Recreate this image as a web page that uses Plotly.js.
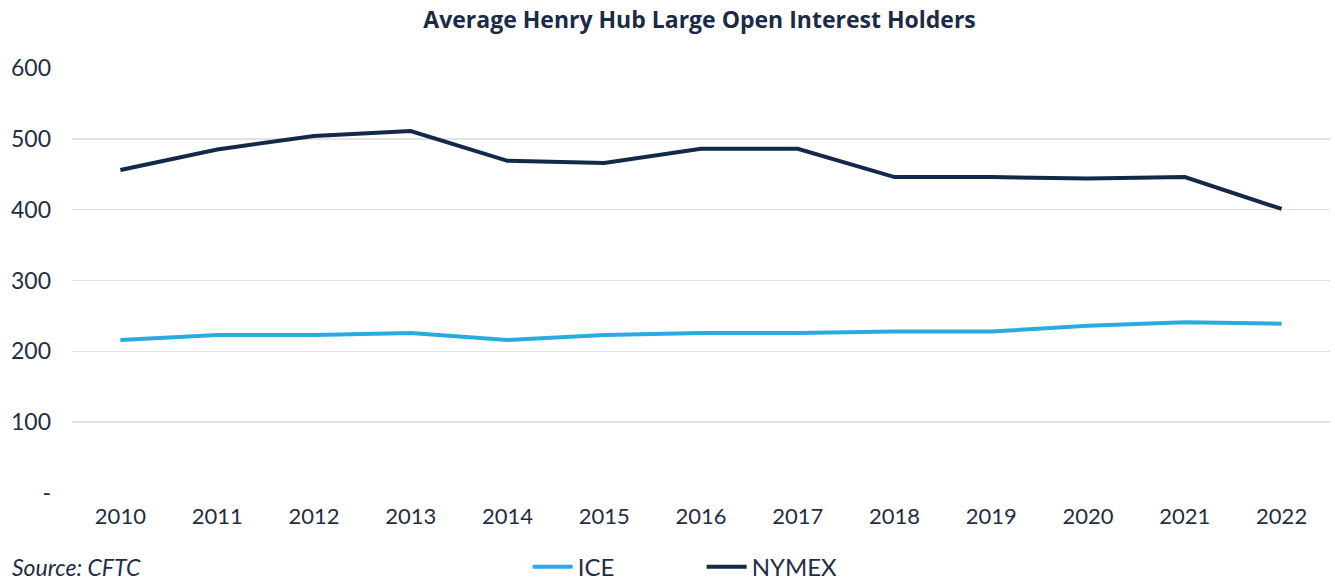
<!DOCTYPE html>
<html>
<head>
<meta charset="utf-8">
<script src="https://cdn.plot.ly/plotly-3.0.1.min.js"></script>
<style>html,body{margin:0;padding:0;background:#fff;}#chart{width:1335px;height:583px;}</style>
</head>
<body>
<div id="chart"></div>
<script>
const years = ["2010","2011","2012","2013","2014","2015","2016","2017","2018","2019","2020","2021","2022"];
const iceValues = [216, 223, 223, 226, 216, 223, 226, 226, 228, 228, 236, 241, 239];
const nymexValues = [456, 485, 504, 511, 469, 466, 486, 486, 446, 446, 444, 446, 401];
const yTickVals = [0, 100, 200, 300, 400, 500, 600];
const yTickText = ["-", "100", "200", "300", "400", "500", "600"];

const textColor = "#1f2d45";
const fontFam = "Lato, 'Open Sans', sans-serif";

const traces = [
  {x: years, y: iceValues, name: "ICE", type: "scatter", mode: "lines",
   line: {color: "#29abe2", width: 4}},
  {x: years, y: nymexValues, name: "NYMEX", type: "scatter", mode: "lines",
   line: {color: "#12294a", width: 4}}
];

const layout = {
  width: 1335, height: 583,
  margin: {l: 72, r: 5, t: 68, b: 90},
  paper_bgcolor: "#fff", plot_bgcolor: "#fff",
  font: {family: fontFam, color: textColor, size: 20},
  title: {text: "<b>Average Henry Hub Large Open Interest Holders</b>",
          x: 0.524, xanchor: "center", y: 0.965, yanchor: "middle",
          font: {family: "'Open Sans', sans-serif", size: 23, color: "#1b2a47"}},
  xaxis: {type: "category", range: [-0.5, 12.5], showgrid: false, zeroline: false,
          showline: false, ticks: "", ticklabelstandoff: 8,
          tickfont: {size: 22, color: textColor}},
  yaxis: {range: [0, 600], tickvals: yTickVals, ticktext: yTickText,
          showgrid: true, gridcolor: "#e3e3e3", gridwidth: 1.5, zeroline: false,
          showline: false, ticks: "", ticklabelstandoff: 20,
          tickfont: {size: 23, color: textColor}},
  showlegend: true,
  legend: {orientation: "h", xref: "container", yref: "container",
           x: 0.5256, xanchor: "center", y: 0.027, yanchor: "middle",
           entrywidth: 119, entrywidthmode: "pixels",
           font: {size: 24, color: textColor}, itemwidth: 40, traceorder: "normal"},
  annotations: [{text: "<i>Source: CFTC</i>", xref: "paper", yref: "paper",
                 x: -0.049, y: -0.173, xanchor: "left", yanchor: "middle",
                 showarrow: false, font: {size: 23, color: "#1f2d45"}}]
};

Plotly.newPlot("chart", traces, layout, {displayModeBar: false, staticPlot: true});
</script>
</body>
</html>
